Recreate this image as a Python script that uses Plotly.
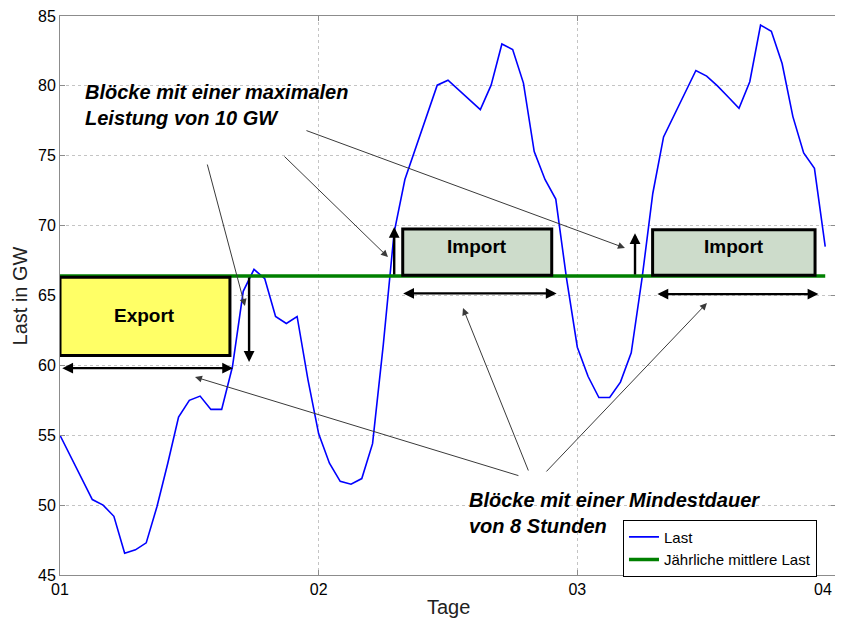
import plotly.graph_objects as go

# Hourly load, 3 days (hour 0 = day 01 00:00)
hours = list(range(72))
last_gw = [55.0, 53.5, 51.9, 50.4, 50.0, 49.2, 46.55, 46.8, 47.3, 49.9, 53.0, 56.3,
           57.5, 57.8, 56.85, 56.85, 59.9, 65.3, 66.87, 66.2, 63.5, 63.0, 63.5, 59.0,
           55.1, 53.0, 51.7, 51.5, 51.9, 54.4, 61.5, 69.5, 73.3, 75.5, 77.8, 80.05,
           80.4, 79.7, 79.0, 78.3, 80.05, 83.0, 82.6, 80.2, 75.3, 73.3, 71.9, 66.2,
           61.3, 59.2, 57.7, 57.7, 58.8, 60.9, 66.2, 72.3, 76.35, 77.9, 79.5, 81.1,
           80.7, 80.0, 79.2, 78.4, 80.3, 84.35, 83.9, 81.6, 77.8, 75.2, 74.1, 68.5]
mean_last = 66.4

# blocks: label, start day, end day, low, high
block_labels = ["Export", "Import", "Import"]
block_start = [1.0, 2.325, 3.291]
block_end = [1.657, 2.901, 3.919]
block_low = [60.7, 66.45, 66.45]
block_high = [66.3, 69.75, 69.7]
block_colors = ["#ffff66", "#cddccb", "#cddccb"]

x_ticks = [1, 2, 3, 4]
x_ticklabels = ["01", "02", "03", "04"]

FONT = "Liberation Sans, Arial, sans-serif"

days = [1 + h / 24 for h in hours]

fig = go.Figure()
fig.add_trace(go.Scatter(x=days, y=last_gw, mode="lines", name="Last",
                         line=dict(color="#0000ff", width=1.6)))
fig.add_trace(go.Scatter(x=[days[0], days[-1]], y=[mean_last, mean_last], mode="lines",
                         name="Jährliche mittlere Last",
                         line=dict(color="#008000", width=3.5)))

for lab, x0, x1, y0, y1, c in zip(block_labels, block_start, block_end, block_low, block_high, block_colors):
    fig.add_shape(type="rect", x0=x0, x1=x1, y0=y0, y1=y1, fillcolor=c,
                  line=dict(color="black", width=3), layer="above")
    fig.add_annotation(x=(x0 + x1) / 2, y=(y0 + y1) / 2 + (0.4 if lab == "Import" else 0.1),
                       text="<b>" + lab + "</b>", showarrow=False,
                       font=dict(family=FONT, size=19, color="black"))

# thick arrows (duration / power of blocks)
thick = [
    # x_end, y_end, x_start, y_start, sides
    (1.669, 59.8, 1.003, 59.8, "end+start"),
    (2.920, 65.15, 2.321, 65.15, "end+start"),
    (3.932, 65.1, 3.304, 65.1, "end+start"),
    (1.731, 60.25, 1.731, 66.4, "end"),
    (2.292, 69.9, 2.292, 66.4, "end"),
    (3.223, 69.45, 3.223, 66.4, "end"),
]
for xe, ye, xs, ys, side in thick:
    fig.add_annotation(x=xe, y=ye, ax=xs, ay=ys, axref="x", ayref="y", text="",
                       showarrow=True, arrowhead=2, arrowsize=0.9, arrowwidth=2.4,
                       arrowcolor="black", arrowside=side, standoff=0, startstandoff=0)

# thin pointer arrows from the two captions
thin = [
    (1.715, 64.25, 1.568, 74.48),
    (2.268, 67.75, 1.862, 75.05),
    (3.184, 68.40, 1.947, 76.84),
    (1.522, 59.17, 2.778, 52.08),
    (2.558, 64.10, 2.813, 52.37),
    (3.501, 64.46, 2.875, 52.30),
]
for xe, ye, xs, ys in thin:
    fig.add_annotation(x=xe, y=ye, ax=xs, ay=ys, axref="x", ayref="y", text="",
                       showarrow=True, arrowhead=2, arrowsize=1.4, arrowwidth=1,
                       arrowcolor="#3a3a3a", standoff=0)

fig.add_annotation(x=1.088, y=78.6, xanchor="left", yanchor="middle", align="left",
                   text="<b><i>Blöcke mit einer maximalen<br>Leistung von 10 GW</i></b>",
                   showarrow=False, font=dict(family=FONT, size=20, color="black"))
fig.add_annotation(x=2.572, y=49.44, xanchor="left", yanchor="middle", align="left",
                   text="<b><i>Blöcke mit einer Mindestdauer<br>von 8 Stunden</i></b>",
                   showarrow=False, font=dict(family=FONT, size=20, color="black"))

# axis titles as paper annotations
fig.add_annotation(x=0.5, y=-0.057, xref="paper", yref="paper", yanchor="middle",
                   text="Tage", showarrow=False, font=dict(family=FONT, size=20, color="#222"))
fig.add_annotation(x=-0.0516, y=0.5, xref="paper", yref="paper", xanchor="center",
                   text="Last in GW", textangle=-90, showarrow=False,
                   font=dict(family=FONT, size=20, color="#222"))
# last day label would run off the right edge: pin it right-aligned inside the page
fig.add_annotation(x=0.998, y=-0.0255, xref="paper", yref="paper", xanchor="right",
                   yanchor="middle", text=x_ticklabels[-1], showarrow=False,
                   font=dict(family=FONT, size=16, color="black"))

axis_common = dict(showline=True, linecolor="#8c8c8c", linewidth=1, mirror="ticks",
                   ticks="inside", ticklen=5, tickcolor="#8c8c8c", automargin=False,
                   ticklabeloverflow="allow",
                   showgrid=True, gridcolor="#c4c4c4", griddash="dot", gridwidth=1,
                   zeroline=False, tickfont=dict(family=FONT, size=16, color="black"))

fig.update_xaxes(range=[1, 4], tickvals=x_ticks, ticktext=x_ticklabels[:-1] + [""], **axis_common)
fig.update_yaxes(range=[45, 85], dtick=5, **axis_common)

# page body has an 8px margin, so the figure is a little smaller than the window
fig.update_layout(
    width=835, height=611,
    margin=dict(l=52, r=7, t=8, b=44),
    plot_bgcolor="white", paper_bgcolor="white",
    font=dict(family=FONT, color="black"),
    showlegend=True,
    legend=dict(x=0.7255, y=0.099, xanchor="left", yanchor="top",
                bordercolor="black", borderwidth=1, bgcolor="white",
                font=dict(family=FONT, size=15, color="black"),
                tracegroupgap=0, itemwidth=30),
)

fig.write_html("out.html")
